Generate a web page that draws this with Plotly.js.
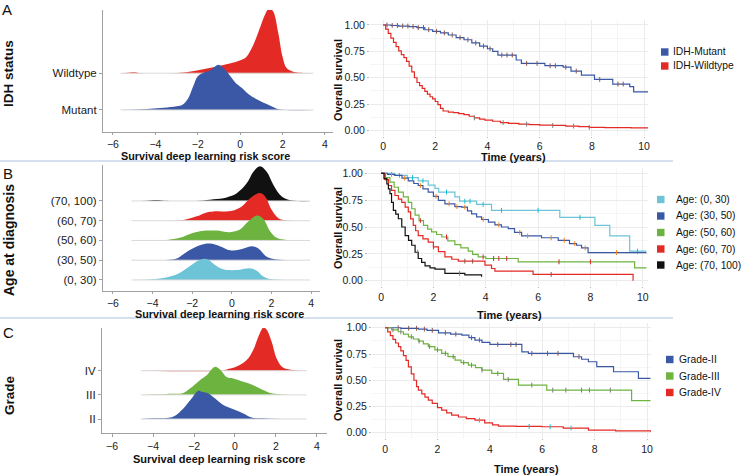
<!DOCTYPE html>
<html>
<head>
<meta charset="utf-8">
<script src="https://cdn.plot.ly/plotly-3.0.1.min.js"></script>
<style>
html, body { margin: 0; padding: 0; background: #fff; }
#chart { width: 743px; height: 475px; }
</style>
</head>
<body>
<div id="chart"></div>
<script>
// ---------- ridge densities (risk score on x, height in units of row spacing) ----------
const idhCats = ['Mutant', 'Wildtype'];
const idhRidgeX = [
    [-5.64, -4.8, -4.25, -3.6, -3.0, -2.7, -2.45, -2.21, -2.0, -1.7, -1.4, -1.03, -0.75, -0.45, -0.2, 0.1, 0.4, 0.85, 1.25, 1.6, 1.9, 3.45],
    [-5.64, -5.3, -5.04, -4.75, -4.0, -3.0, -2.4, -1.8, -1.1, -0.6, -0.15, 0.1, 0.3, 0.62, 0.93, 1.17, 1.37, 1.56, 1.8, 2.0, 2.19, 2.5, 2.9, 3.45]
];
const idhRidgeH = [
    [0, 0.01, 0.03, 0.06, 0.1, 0.15, 0.32, 0.65, 0.92, 1.02, 1.08, 1.23, 1.12, 0.91, 0.73, 0.59, 0.43, 0.27, 0.16, 0.07, 0.01, 0],
    [0, 0.01, 0.025, 0.005, 0, 0.005, 0.04, 0.1, 0.18, 0.25, 0.32, 0.37, 0.45, 0.77, 1.23, 1.59, 1.77, 1.68, 1.09, 0.45, 0.14, 0.04, 0.01, 0]
];

const ageCats = ['(0, 30)', '(30, 50)', '(50, 60)', '(60, 70)', '(70, 100)'];
const ageRidgeX = [
    [-5.06, -3.96, -3.12, -2.62, -2.11, -1.61, -1.27, -0.85, -0.43, 0.25, 0.92, 1.26, 1.59, 1.93, 3.95],
    [-5.06, -3.29, -2.78, -2.28, -1.61, -1.1, -0.6, -0.09, 0.41, 1.0, 1.34, 1.76, 2.27, 3.95],
    [-5.06, -3.3, -2.62, -1.94, -1.27, -0.76, -0.09, 0.41, 0.84, 1.26, 1.59, 1.93, 2.27, 2.77, 3.95],
    [-5.06, -3.3, -2.45, -1.77, -1.27, -0.93, -0.43, 0.08, 0.5, 0.84, 1.17, 1.42, 1.68, 2.01, 2.35, 2.77, 3.95],
    [-5.06, -4.3, -3.8, -3.4, -2.5, -1.6, -0.93, -0.26, 0.25, 0.75, 1.09, 1.42, 1.76, 2.1, 2.52, 2.94, 3.95]
];
const ageRidgeH = [
    [0, 0.03, 0.17, 0.37, 0.71, 1.01, 1.06, 0.76, 0.54, 0.5, 0.59, 0.47, 0.17, 0.05, 0],
    [0, 0.01, 0.08, 0.42, 0.76, 0.84, 0.71, 0.5, 0.54, 0.71, 0.59, 0.17, 0.03, 0],
    [0, 0.02, 0.13, 0.39, 0.5, 0.5, 0.42, 0.55, 0.97, 1.26, 1.09, 0.47, 0.13, 0.02, 0],
    [0, 0, 0.03, 0.22, 0.42, 0.47, 0.47, 0.52, 0.72, 1.06, 1.31, 1.40, 1.23, 0.55, 0.13, 0.02, 0],
    [0, 0.01, 0.05, 0.01, 0, 0.01, 0.08, 0.18, 0.39, 0.89, 1.48, 1.76, 1.48, 0.81, 0.22, 0.03, 0]
];

const gradeCats = ['II', 'III', 'IV'];
const gradeRidgeX = [
    [-4.6, -3.98, -3.33, -3.0, -2.52, -2.11, -1.79, -1.63, -1.3, -0.98, -0.57, -0.08, 0.41, 0.81, 1.38, 1.87, 3.5],
    [-4.6, -3.98, -3.33, -2.52, -2.2, -1.71, -1.38, -0.98, -0.73, -0.41, -0.08, 0.41, 0.81, 1.22, 1.71, 2.2, 3.5],
    [-4.6, -0.73, -0.41, 0.08, 0.57, 0.89, 1.14, 1.38, 1.54, 1.79, 2.03, 2.36, 2.85, 3.5]
];
const gradeRidgeH = [
    [0, 0.03, 0.04, 0.1, 0.44, 0.86, 1.17, 1.13, 1.06, 0.86, 0.58, 0.4, 0.23, 0.06, 0.03, 0.01, 0],
    [0, 0.03, 0.04, 0.08, 0.26, 0.61, 0.81, 1.16, 1.05, 0.74, 0.68, 0.54, 0.43, 0.26, 0.08, 0.03, 0],
    [0, 0, 0.055, 0.17, 0.44, 0.86, 1.41, 1.78, 1.71, 1.2, 0.51, 0.12, 0.03, 0]
];

// ---------- Kaplan-Meier curves (years, survival) ----------
const idhNames = ['IDH-Mutant', 'IDH-Wildtype'];
const idhTime = [
    [0, 0.3, 0.6, 1.0, 1.3, 1.6, 1.9, 2.2, 2.5, 2.8, 3.1, 3.4, 3.7, 4.0, 4.2, 4.4, 5.1, 5.3, 6.2, 6.9, 7.2, 7.6, 8.1, 8.8, 9.45, 9.6, 10.15],
    [0, 0.1, 0.2, 0.3, 0.4, 0.5, 0.6, 0.7, 0.8, 0.9, 1.0, 1.1, 1.2, 1.3, 1.4, 1.5, 1.6, 1.7, 1.8, 1.9, 2.0, 2.1, 2.2, 2.3, 2.5, 2.7, 2.9, 3.1, 3.3, 3.5, 3.7, 3.9, 4.2, 4.5, 4.8, 5.2, 5.6, 6.0, 6.5, 7.0, 7.5, 7.9, 8.5, 9.0, 9.5, 10.15]
];
const idhSurv = [
    [1.0, 0.995, 0.99, 0.985, 0.975, 0.955, 0.94, 0.925, 0.905, 0.88, 0.86, 0.83, 0.80, 0.775, 0.75, 0.715, 0.668, 0.636, 0.614, 0.60, 0.563, 0.525, 0.484, 0.44, 0.415, 0.367, 0.367],
    [1.0, 0.96, 0.92, 0.875, 0.835, 0.795, 0.755, 0.72, 0.69, 0.655, 0.61, 0.555, 0.5, 0.455, 0.425, 0.40, 0.37, 0.345, 0.32, 0.30, 0.275, 0.245, 0.21, 0.185, 0.175, 0.17, 0.16, 0.15, 0.135, 0.12, 0.108, 0.098, 0.088, 0.075, 0.067, 0.06, 0.056, 0.052, 0.048, 0.042, 0.037, 0.03, 0.028, 0.027, 0.026, 0.025]
];
const idhCensor = [
    [0.15, 0.35, 0.55, 0.75, 0.95, 1.15, 1.35, 1.55, 1.75, 2.05, 2.35, 2.65, 2.95, 3.25, 3.55, 3.85, 4.1, 4.55, 4.75, 4.95, 5.5, 5.9, 6.4, 6.6, 7.0, 7.4, 8.3, 9.0, 9.2],
    [3.5, 4.6, 5.5, 6.5, 7.3, 7.9]
];

const ageNames = ['Age: (0, 30)', 'Age: (30, 50)', 'Age: (50, 60)', 'Age: (60, 70)', 'Age: (70, 100)'];
const ageTime = [
    [0, 0.5, 1.0, 1.42, 1.8, 2.06, 2.2, 2.82, 3.0, 3.65, 4.22, 6.83, 8.17, 8.74, 9.5, 10.14],
    [0, 0.25, 0.53, 0.8, 1.04, 1.25, 1.42, 1.6, 1.8, 2.0, 2.19, 2.44, 2.82, 3.08, 3.3, 3.46, 3.65, 3.84, 4.1, 4.35, 4.6, 4.86, 5.1, 5.37, 6.13, 6.77, 7.2, 7.47, 7.66, 7.91, 10.14],
    [0, 0.17, 0.34, 0.5, 0.66, 0.85, 1.04, 1.17, 1.3, 1.45, 1.62, 1.78, 1.93, 2.12, 2.32, 2.55, 2.82, 3.05, 3.33, 3.5, 3.71, 4.0, 5.24, 9.69, 10.14],
    [0, 0.14, 0.28, 0.4, 0.53, 0.66, 0.79, 0.92, 1.04, 1.13, 1.23, 1.32, 1.42, 1.6, 1.8, 2.0, 2.19, 2.44, 2.7, 2.95, 3.97, 4.22, 4.35, 5.81, 9.63],
    [0, 0.11, 0.22, 0.28, 0.34, 0.4, 0.47, 0.56, 0.66, 0.79, 0.92, 1.05, 1.17, 1.3, 1.42, 1.55, 1.68, 1.87, 2.06, 2.44, 3.2, 3.84]
];
const ageSurv = [
    [1.0, 0.98, 0.96, 0.93, 0.89, 0.86, 0.825, 0.78, 0.74, 0.71, 0.655, 0.59, 0.515, 0.417, 0.275, 0.275],
    [1.0, 0.99, 0.98, 0.955, 0.93, 0.905, 0.886, 0.855, 0.824, 0.785, 0.747, 0.716, 0.69, 0.685, 0.65, 0.623, 0.595, 0.57, 0.545, 0.52, 0.5, 0.485, 0.45, 0.417, 0.40, 0.376, 0.345, 0.33, 0.305, 0.262, 0.262],
    [1.0, 0.96, 0.917, 0.87, 0.824, 0.78, 0.73, 0.67, 0.61, 0.56, 0.515, 0.48, 0.454, 0.43, 0.407, 0.37, 0.336, 0.305, 0.275, 0.245, 0.222, 0.207, 0.176, 0.12, 0.12],
    [1.0, 0.94, 0.886, 0.84, 0.793, 0.76, 0.73, 0.685, 0.64, 0.575, 0.515, 0.465, 0.42, 0.39, 0.36, 0.315, 0.27, 0.222, 0.2, 0.182, 0.145, 0.114, 0.09, 0.059, 0.0],
    [1.0, 0.95, 0.9, 0.855, 0.81, 0.73, 0.654, 0.62, 0.577, 0.5, 0.42, 0.375, 0.33, 0.265, 0.207, 0.17, 0.139, 0.12, 0.108, 0.068, 0.055, 0.037]
];
const ageCensor = [
    [0.7, 1.2, 1.6, 2.5, 3.2, 3.4, 3.9, 4.6, 6.0, 7.6, 9.8],
    [0.4, 0.9, 1.5, 2.1, 2.6, 2.9, 3.2, 3.9, 4.5, 5.3, 5.6, 6.5, 7.0, 7.4, 7.8, 9.0],
    [1.5, 2.5, 3.9, 4.3, 4.5, 4.8, 6.8, 8.0],
    [2.0, 3.2, 3.5, 6.5],
    [1.4, 3.0]
];

const gradeNames = ['Grade-II', 'Grade-III', 'Grade-IV'];
const gradeTime = [
    [0, 0.6, 1.27, 1.6, 2.04, 2.5, 2.93, 3.2, 3.43, 3.7, 4.0, 5.22, 5.47, 7.19, 7.5, 7.76, 8.08, 8.72, 9.67, 10.13],
    [0, 0.25, 0.5, 0.7, 0.89, 1.08, 1.27, 1.46, 1.65, 1.9, 2.16, 2.4, 2.67, 2.9, 3.18, 3.45, 3.69, 4.07, 4.52, 5.09, 6.17, 9.41, 10.13],
    [0, 0.1, 0.2, 0.3, 0.4, 0.51, 0.6, 0.7, 0.8, 0.89, 1.0, 1.1, 1.2, 1.27, 1.4, 1.52, 1.65, 1.8, 2.0, 2.16, 2.35, 2.54, 2.8, 3.1, 3.43, 3.8, 4.1, 4.33, 5.0, 5.98, 6.8, 7.76, 8.8, 10.13]
];
const gradeSurv = [
    [1.0, 0.995, 0.987, 0.975, 0.952, 0.94, 0.93, 0.905, 0.883, 0.86, 0.841, 0.771, 0.756, 0.724, 0.70, 0.676, 0.63, 0.581, 0.517, 0.517],
    [1.0, 0.98, 0.962, 0.94, 0.914, 0.893, 0.873, 0.847, 0.82, 0.79, 0.756, 0.725, 0.692, 0.668, 0.644, 0.62, 0.597, 0.565, 0.508, 0.454, 0.406, 0.305, 0.305],
    [1.0, 0.96, 0.925, 0.89, 0.855, 0.82, 0.78, 0.735, 0.69, 0.628, 0.56, 0.5, 0.44, 0.406, 0.37, 0.34, 0.311, 0.28, 0.24, 0.216, 0.19, 0.168, 0.15, 0.135, 0.12, 0.095, 0.075, 0.063, 0.06, 0.057, 0.045, 0.025, 0.018, 0.01]
];
const gradeCensor = [
    [0.5, 0.9, 1.2, 1.5, 1.8, 2.3, 2.7, 3.3, 3.6, 4.3, 4.8, 5.0, 5.6, 6.2, 6.6, 7.4],
    [0.3, 0.6, 1.0, 1.3, 1.7, 2.0, 2.3, 2.6, 3.0, 3.3, 3.7, 4.3, 4.7, 5.6, 6.4, 6.9, 7.5, 7.8, 8.6],
    [3.6, 5.5, 6.3, 7.1]
];

const BLUE = '#3a58a6', RED = '#e42a25', GREEN = '#6db33f', CYAN = '#6cc4d6', BLACK = '#111111';
const idhColors = [BLUE, RED];
const ageColors = [CYAN, BLUE, GREEN, RED, BLACK];
const gradeColors = [BLUE, GREEN, RED];

const FONT = 'Liberation Sans, Arial, Helvetica, sans-serif';
const W = 743, H = 475;
const px = v => v / W;
const py = v => 1 - v / H;

const traces = [];

// upper rows first so the lower ridges overlap them
function addRidges(xa, ya, xs, hs, colors) {
    for (let i = xs.length - 1; i >= 0; i--) {
        const x = xs[i];
        traces.push({
            type: 'scatter', mode: 'lines', xaxis: xa, yaxis: ya,
            x: [x[0], x[x.length - 1]], y: [i, i],
            line: { color: '#d9d9d9', width: 1 },
            hoverinfo: 'skip', showlegend: false
        });
        traces.push({
            type: 'scatter', mode: 'lines', xaxis: xa, yaxis: ya,
            x: x, y: hs[i].map(h => i + h),
            fill: 'tonexty', fillcolor: colors[i],
            line: { color: colors[i], width: 0, shape: 'spline', smoothing: 1 },
            hoverinfo: 'skip', showlegend: false
        });
    }
}

function survAt(t, ts, ss) {
    let v = ss[0];
    for (let i = 0; i < ts.length; i++) if (ts[i] <= t) v = ss[i];
    return v;
}

function addKM(xa, ya, times, survs, censors, colors) {
    times.forEach((ts, i) => {
        traces.push({
            type: 'scatter', mode: 'lines', xaxis: xa, yaxis: ya,
            x: ts, y: survs[i],
            line: { color: colors[i], width: 1.2, shape: 'hv' },
            showlegend: false
        });
        traces.push({
            type: 'scatter', mode: 'markers', xaxis: xa, yaxis: ya,
            x: censors[i], y: censors[i].map(t => survAt(t, ts, survs[i])),
            marker: { symbol: 'line-ns-open', size: 3.5, line: { color: colors[i], width: 1 } },
            hoverinfo: 'skip', showlegend: false
        });
    });
}

addRidges('x', 'y', idhRidgeX, idhRidgeH, idhColors);
addKM('x2', 'y2', idhTime, idhSurv, idhCensor, idhColors);
addRidges('x3', 'y3', ageRidgeX, ageRidgeH, ageColors);
addKM('x4', 'y4', ageTime, ageSurv, ageCensor, ageColors);
addRidges('x5', 'y5', gradeRidgeX, gradeRidgeH, gradeColors);
addKM('x6', 'y6', gradeTime, gradeSurv, gradeCensor, gradeColors);

const tickFont = { family: FONT, size: 10.5, color: '#1a1a1a' };

function ridgeX(dom, range, anchor, len) {
    return {
        domain: dom, range: range, anchor: anchor,
        tickmode: 'linear', tick0: 0, dtick: 2,
        showline: true, linecolor: '#a0a0a0', linewidth: 1,
        ticks: 'outside', ticklen: len, tickcolor: '#a0a0a0',
        showgrid: false, zeroline: false, tickfont: tickFont, fixedrange: true
    };
}
function ridgeY(dom, range, anchor, cats) {
    return {
        domain: dom, range: range, anchor: anchor,
        tickmode: 'array', tickvals: cats.map((c, i) => i), ticktext: cats,
        showline: true, linecolor: '#a0a0a0', linewidth: 1,
        ticks: 'outside', ticklen: 3, tickcolor: '#a0a0a0',
        showgrid: false, zeroline: false,
        tickfont: { family: FONT, size: 11.5, color: '#1a1a1a' }, fixedrange: true
    };
}
function kmX(dom, range, anchor) {
    return {
        domain: dom, range: range, anchor: anchor,
        tickmode: 'linear', tick0: 0, dtick: 2,
        showgrid: true, gridcolor: '#ebebeb', gridwidth: 1,
        minor: { dtick: 1, showgrid: true, gridcolor: '#f5f5f5' },
        ticks: 'outside', ticklen: 1, tickcolor: '#b5b5b5',
        showline: false, zeroline: false, tickfont: tickFont, fixedrange: true
    };
}
function kmY(dom, anchor) {
    return {
        domain: dom, range: [-0.05, 1.05], anchor: anchor,
        tickmode: 'linear', tick0: 0, dtick: 0.25, tickformat: '.2f',
        showgrid: true, gridcolor: '#ebebeb', gridwidth: 1,
        minor: { dtick: 0.125, showgrid: true, gridcolor: '#f5f5f5' },
        ticks: 'outside', ticklen: 2, tickcolor: '#b5b5b5',
        showline: false, zeroline: false, tickfont: tickFont, fixedrange: true
    };
}

const annotations = [];
const shapes = [];

function label(text, x, y, opts) {
    annotations.push(Object.assign({
        text: text, x: px(x), y: py(y), xref: 'paper', yref: 'paper',
        showarrow: false, xanchor: 'center', yanchor: 'middle',
        font: { family: FONT, size: 11, color: '#111' }
    }, opts || {}));
}

// panel letters and row titles
label('A', 7, 10, { font: { family: FONT, size: 15, color: '#111' } });
label('B', 8, 173, { font: { family: FONT, size: 15, color: '#111' } });
label('C', 8, 332, { font: { family: FONT, size: 15, color: '#111' } });
label('<b>IDH status</b>', 9, 74, { textangle: -90, font: { family: FONT, size: 13.5, color: '#111' } });
label('<b>Age at diagnosis</b>', 9, 240, { textangle: -90, font: { family: FONT, size: 14, color: '#111' } });
label('<b>Grade</b>', 9, 395, { textangle: -90, font: { family: FONT, size: 13.5, color: '#111' } });

// axis titles
label('<b>Survival deep learning risk score</b>', 205, 156, { font: { family: FONT, size: 10.8, color: '#111' } });
label('<b>Survival deep learning risk score</b>', 219, 313.5, { font: { family: FONT, size: 10.8, color: '#111' } });
label('<b>Survival deep learning risk score</b>', 219, 459);
label('<b>Time (years)</b>', 513, 157);
label('<b>Time (years)</b>', 510, 314.5);
label('<b>Time (years)</b>', 526, 468.5);
label('<b>Overall survival</b>', 338, 80, { textangle: -90 });
label('<b>Overall survival</b>', 338, 228, { textangle: -90 });
label('<b>Overall survival</b>', 338, 380, { textangle: -90 });

// legends
function legend(names, colors, sqX, textX, rowsY) {
    names.forEach((n, i) => {
        shapes.push({
            type: 'rect', xref: 'paper', yref: 'paper',
            x0: px(sqX), x1: px(sqX + 7.5), y0: py(rowsY[i] + 3.7), y1: py(rowsY[i] - 3.7),
            fillcolor: colors[i], line: { width: 0 }
        });
        label(n, textX, rowsY[i], { xanchor: 'left', font: { family: FONT, size: 10.3, color: '#111' } });
    });
}
legend(idhNames, idhColors, 661, 671, [52, 66]);
legend(ageNames, ageColors, 657, 674, [199.5, 216, 232.5, 249, 265]);
legend(gradeNames, gradeColors, 666, 677, [359.5, 376, 392.5]);

// blue separators between rows
[161, 318].forEach(y => shapes.push({
    type: 'line', xref: 'paper', yref: 'paper',
    x0: 0, x1: px(673), y0: py(y), y1: py(y),
    line: { color: '#a9c1de', width: 1 }
}));

const layout = {
    width: W, height: H, autosize: false,
    margin: { l: 0, r: 0, t: 0, b: 0 },
    paper_bgcolor: '#ffffff', plot_bgcolor: '#ffffff',
    font: { family: FONT, color: '#111' },
    showlegend: false,
    xaxis: ridgeX([px(103), px(333)], [-6.47, 4.38], 'y', 2),
    yaxis: ridgeY([py(132), py(10)], [-0.6, 2.72], 'x', idhCats),
    xaxis2: kmX([px(370), px(648)], [-0.5, 10.15], 'y2'),
    yaxis2: kmY([py(135.8), py(19.7)], 'x2'),
    xaxis3: ridgeX([px(103), px(320)], [-6.5, 4.45], 'y3', 2),
    yaxis3: ridgeY([py(291), py(165)], [-0.56, 5.82], 'x3', ageCats),
    xaxis4: kmX([px(368), px(648)], [-0.5, 10.2], 'y4'),
    yaxis4: kmY([py(286.1), py(167.9)], 'x4'),
    xaxis5: ridgeX([px(102), px(327)], [-6.49, 4.49], 'y5', 3),
    yaxis5: ridgeY([py(433), py(328)], [-0.58, 3.77], 'x5', gradeCats),
    xaxis6: kmX([px(372), px(651)], [-0.5, 10.15], 'y6'),
    yaxis6: kmY([py(438), py(322.5)], 'x6'),
    annotations: annotations,
    shapes: shapes
};

Plotly.newPlot('chart', traces, layout, { displayModeBar: false, staticPlot: true });
</script>
</body>
</html>
